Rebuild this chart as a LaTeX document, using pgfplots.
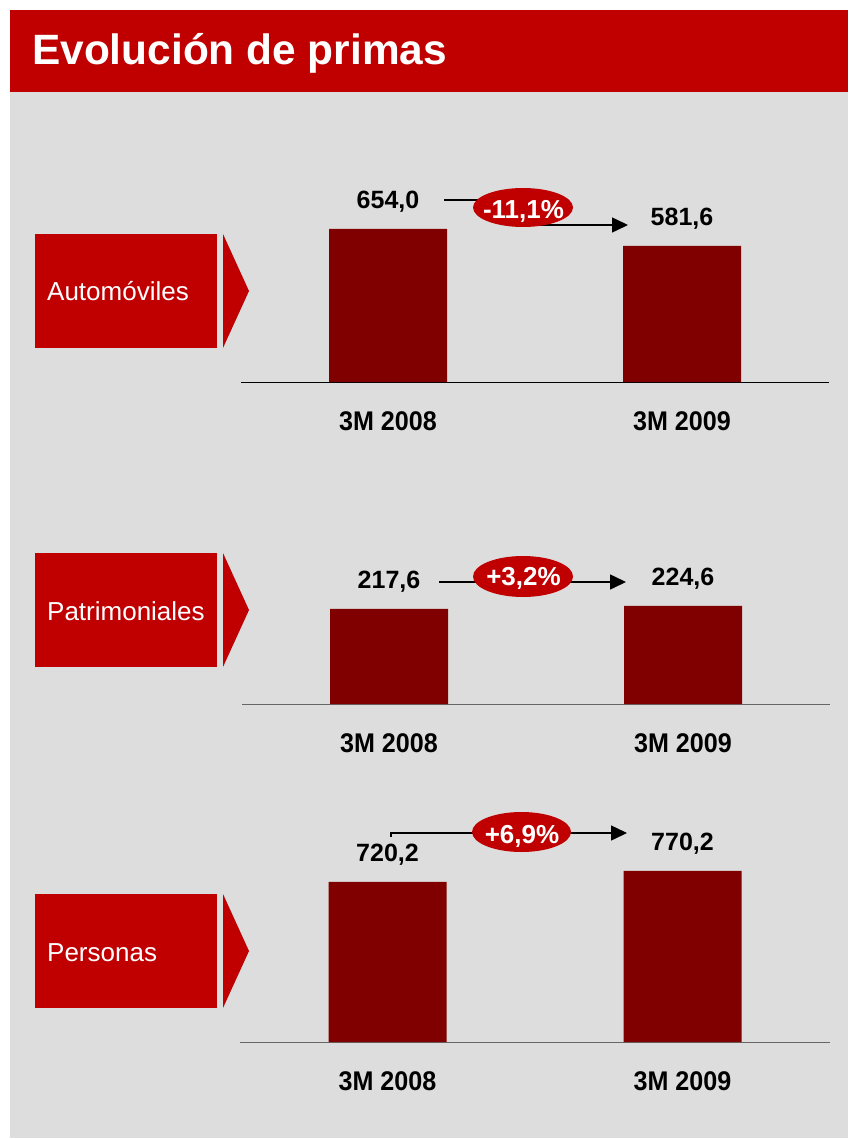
\documentclass[border=0pt]{standalone}
\usepackage{pgfplots}
\pgfplotsset{compat=1.18}
\usetikzlibrary{arrows.meta}
\usepackage{fontspec}
\setmainfont{Liberation Sans}
\newfontfamily\tickfont[FakeStretch=0.93]{Liberation Sans}
\definecolor{mred}{HTML}{C00000}
\definecolor{dred}{HTML}{800000}
\definecolor{bg}{HTML}{DDDDDD}

\pgfplotsset{
  panel/.style={
    anchor=south west, x=294pt, xmin=-0.5, xmax=1.5, ymin=0,
    ybar, bar width=118pt, clip=false,
    axis x line=bottom, axis y line=none,
    x axis line style={-, line width=1pt},
    xtick={0,1}, xticklabels={3M 2008,3M 2009},
    major tick length=0pt,
    xticklabel style={font=\tickfont\bfseries\fontsize{27}{27}\selectfont, anchor=base, yshift=-48pt},
    nodes near coords={\pgfmathprintnumber[fixed,fixed zerofill,precision=1,use comma]{\pgfplotspointmeta}},
    nodes near coords style={font=\bfseries\fontsize{25}{25}\selectfont, anchor=base, yshift=20pt, text=black, /pgf/number format/assume math mode=true},
  },
  barstyle/.style={fill=dred, draw=none},
}

\newcommand\catbox[3]{%
  \fill[mred] (35pt,-#1pt) rectangle (217pt,-#1pt-114pt);
  \fill[mred] (223pt,-#1pt) -- (249pt,-#1pt-57pt) -- (223pt,-#1pt-114pt) -- cycle;
  \node[anchor=base west, inner sep=0pt, text=white, font=\fontsize{26}{26}\selectfont] at (47pt,-#2pt) {#3};
}

\begin{document}
\begin{tikzpicture}
% canvas
\fill[white] (0pt,0pt) rectangle (848pt,-1139pt);
\fill[bg] (10pt,-10pt) rectangle (848pt,-1138pt);
\fill[mred] (10pt,-10pt) rectangle (848pt,-92pt);
\node[anchor=base west, inner sep=0pt, text=white, font=\bfseries\fontsize{42.4}{42.4}\selectfont] at (32pt,-65pt) {Evolución de primas};

\catbox{234}{301}{Automóviles}
\catbox{553}{620}{Patrimoniales}
\catbox{894}{961}{Personas}

% Automóviles
\begin{axis}[panel, at={(241pt,-382pt)}, y=0.234pt, ymax=700, x axis line style={black}]
\addplot[barstyle] coordinates {(0,654.0) (1,581.6)};
\end{axis}

% Patrimoniales
\begin{axis}[panel, at={(242pt,-704pt)}, y=0.437pt, ymax=250, x axis line style={gray!80!black}]
\addplot[barstyle] coordinates {(0,217.6) (1,224.6)};
\end{axis}

% Personas
\begin{axis}[panel, at={(240pt,-1042pt)}, x=295pt, y=0.2222pt, ymax=800, x axis line style={gray!80!black}]
\addplot[barstyle] coordinates {(0,720.2) (1,770.2)};
\end{axis}

% change annotations
\draw[line width=1.5pt, -{Triangle[length=16pt,width=15pt]}] (444pt,-200pt) -- (523pt,-200pt) -- (523pt,-225pt) -- (628pt,-225pt);
\fill[mred] (523pt,-207.5pt) ellipse (50pt and 19.5pt);
\node[anchor=base, inner sep=0pt, text=white, font=\bfseries\fontsize{26}{26}\selectfont] at (523.5pt,-219pt) {-11,1\%};

\draw[line width=1.5pt, -{Triangle[length=16pt,width=15pt]}] (439pt,-582pt) -- (626pt,-582pt);
\fill[mred] (523pt,-576.5pt) ellipse (50pt and 20.5pt);
\node[anchor=base, inner sep=0pt, text=white, font=\bfseries\fontsize{26}{26}\selectfont] at (523.5pt,-585pt) {+3,2\%};

\draw[line width=1.5pt, -{Triangle[length=16pt,width=15pt]}] (391pt,-837pt) -- (391pt,-833pt) -- (627pt,-833pt);
\fill[mred] (521.5pt,-832pt) ellipse (49.5pt and 20pt);
\node[anchor=base, inner sep=0pt, text=white, font=\bfseries\fontsize{26}{26}\selectfont] at (522pt,-843pt) {+6,9\%};
\end{tikzpicture}
\end{document}
